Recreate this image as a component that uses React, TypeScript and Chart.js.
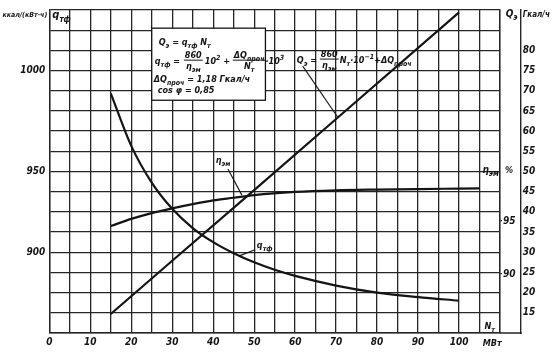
import { useEffect, useRef } from 'react';
import { Chart, registerables } from 'chart.js';

Chart.register(...registerables);

const FONT = '"DejaVu Sans Condensed", "DejaVu Sans", sans-serif';
const INK = '#141414';

// X axis: N_т, МВт
const nMin = 0;
const nMax = 110;
const nStep = 5;
const nLabels = [0, 10, 20, 30, 40, 50, 60, 70, 80, 90, 100];

// Q_э, Гкал/ч (right outer axis)
const qeN = [15, 30, 50, 70, 100];
const qeVals = [14.7, 27.9, 45.4, 63.0, 89.4];
const qeMin = 10;
const qeMax = 90;
const qeTicks = [15, 20, 25, 30, 35, 40, 45, 50, 55, 60, 65, 70, 75, 80];

// q_тф, ккал/(кВт·ч) (left axis)
const qtfN = [15, 20, 25, 30, 35, 40, 45, 50, 55, 60, 70, 80, 90, 100];
const qtfVals = [988.7, 962.7, 944.5, 931.5, 922.0, 915.0, 909.5, 905.0, 901.3, 898.3, 893.5, 890.0, 887.8, 886.0];
const qtfMin = 870;
const qtfMax = 1030;
const qtfStep = 10;
const qtfLabelValues = [910, 950, 1000];
const qtfLabelTexts = ['900', '950', '1000'];

// η_эм, % (right inner axis)
const etaN = [15, 20, 25, 30, 35, 40, 45, 50, 60, 70, 80, 90, 100, 105];
const etaVals = [94.53, 95.2, 95.75, 96.2, 96.6, 96.95, 97.2, 97.45, 97.75, 97.9, 97.97, 98.02, 98.06, 98.08];
const etaMin = 84.43;
const etaMax = 114.92;
const etaTicks = [90, 95];

type Seg = [string, number]; // 0 normal, 1 sub, 2 sup

function segFont(size: number, mode: number) {
  const s = mode === 0 ? size : Math.round(size * 0.75);
  return `italic bold ${s}px ${FONT}`;
}

function measureRich(ctx: CanvasRenderingContext2D, segs: Seg[], size: number) {
  let w = 0;
  for (const [t, m] of segs) {
    ctx.font = segFont(size, m);
    w += ctx.measureText(t).width;
  }
  return w;
}

function rich(ctx: CanvasRenderingContext2D, x: number, y: number, segs: Seg[], size: number) {
  let cx = x;
  ctx.textAlign = 'left';
  ctx.textBaseline = 'alphabetic';
  for (const [t, m] of segs) {
    ctx.font = segFont(size, m);
    const dy = m === 1 ? size * 0.32 : m === 2 ? -size * 0.45 : 0;
    ctx.fillText(t, cx, y + dy);
    cx += ctx.measureText(t).width;
  }
  return cx;
}

function frac(ctx: CanvasRenderingContext2D, x: number, barY: number, num: Seg[], den: Seg[], size: number) {
  const w1 = measureRich(ctx, num, size);
  const w2 = measureRich(ctx, den, size);
  const w = Math.max(w1, w2) + 2;
  rich(ctx, x + (w - w1) / 2, barY - 2, num, size);
  rich(ctx, x + (w - w2) / 2, barY + size, den, size);
  ctx.beginPath();
  ctx.moveTo(x, barY);
  ctx.lineTo(x + w, barY);
  ctx.lineWidth = 1;
  ctx.stroke();
  return x + w;
}

const annotations = {
  id: 'annotations',
  afterDraw(chart: any) {
    const { ctx, chartArea, scales } = chart;
    const xs = scales.x;
    const yQ = scales.yQ;
    const P = (n: number, u: number) => [xs.getPixelForValue(n), yQ.getPixelForValue(qeMin + 5 * u)];
    ctx.save();
    ctx.fillStyle = INK;
    ctx.strokeStyle = INK;

    // bottom line continues to the Q axis
    ctx.lineWidth = 1.4;
    ctx.beginPath();
    ctx.moveTo(chartArea.right, chartArea.bottom);
    ctx.lineTo(yQ.left + 1, chartArea.bottom);
    ctx.stroke();

    // formula box
    const [bx, by] = P(25, 15.1);
    const [bx1, by1] = P(52.75, 11.53);
    ctx.fillStyle = '#ffffff';
    ctx.fillRect(bx, by, bx1 - bx, by1 - by);
    ctx.lineWidth = 1.3;
    ctx.strokeRect(bx, by, bx1 - bx, by1 - by);
    ctx.fillStyle = INK;
    const fs = 9;
    rich(ctx, bx + 7, by + 17, [['Q', 0], ['э', 1], [' = q', 0], ['тф', 1], [' N', 0], ['т', 1]], fs);
    let cx = rich(ctx, bx + 3, by + 36, [['q', 0], ['тф', 1], [' = ', 0]], fs);
    cx = frac(ctx, cx + 1, by + 32, [['860', 0]], [['η', 0], ['эм', 1]], fs);
    cx = rich(ctx, cx + 2, by + 36, [['10', 0], ['2', 2], [' + ', 0]], fs);
    cx = frac(ctx, cx, by + 32, [['ΔQ', 0], ['проч', 1]], [['N', 0], ['т', 1]], fs);
    rich(ctx, cx, by + 36, [['·10', 0], ['3', 2]], fs);
    rich(ctx, bx + 2, by + 54, [['ΔQ', 0], ['проч', 1], [' = 1,18 Гкал/ч', 0]], fs);
    rich(ctx, bx + 6, by + 65, [['cos φ = 0,85', 0]], fs);

    // Q_э formula label and leader
    const [qlx, qly] = P(60.4, 13.37);
    cx = rich(ctx, qlx, qly, [['Q', 0], ['э', 1], [' = ', 0]], fs);
    cx = frac(ctx, cx, qly - 4, [['860', 0]], [['η', 0], ['эм', 1]], fs);
    rich(ctx, cx + 1, qly, [['N', 0], ['т', 1], ['·10', 0], ['−1', 2], ['+ΔQ', 0], ['проч', 1]], fs);
    let [a1, b1] = P(61.85, 13.22);
    let [a2, b2] = P(70.4, 10.69);
    ctx.lineWidth = 1.1;
    ctx.beginPath(); ctx.moveTo(a1, b1); ctx.lineTo(a2, b2); ctx.stroke();

    // η_эм label and leader
    const [elx, ely] = P(40.65, 8.42);
    rich(ctx, elx, ely, [['η', 0], ['эм', 1]], fs);
    [a1, b1] = P(43.6, 8.12);
    [a2, b2] = P(47.0, 6.83);
    ctx.beginPath(); ctx.moveTo(a1, b1); ctx.lineTo(a2, b2); ctx.stroke();

    // q_тф label and leader
    const [qtx, qty] = P(50.66, 4.2);
    rich(ctx, qtx, qty, [['q', 0], ['тф', 1]], fs);
    [a1, b1] = P(50.2, 4.12);
    [a2, b2] = P(46.4, 3.82);
    ctx.beginPath(); ctx.moveTo(a1, b1); ctx.lineTo(a2, b2); ctx.stroke();

    // axis headers
    ctx.textAlign = 'right';
    ctx.font = `italic bold 7px ${FONT}`;
    ctx.fillText('ккал/(кВт·ч)', chartArea.left - 2, 17);
    rich(ctx, chartArea.left + 3, 18, [['q', 0], ['тф', 1]], 11);
    rich(ctx, yQ.left - 15, 17, [['Q', 0], ['э', 1]], 10);
    rich(ctx, yQ.left + 2, 17, [['Гкал/ч', 0]], 8);
    const [hx, hy] = P(105.7, 7.95);
    rich(ctx, hx, hy, [['η', 0], ['эм', 1]], 10);
    rich(ctx, chartArea.right + 5, hy, [['%', 0]], 9);
    const [nx, ny] = P(106.2, 0.2);
    rich(ctx, nx, ny, [['N', 0], ['т', 1]], 9);
    ctx.font = `italic bold 9px ${FONT}`;
    ctx.textAlign = 'left';
    ctx.fillText('МВт', xs.getPixelForValue(105.8), chartArea.bottom + 13);
    ctx.restore();
  },
};

export default function App() {
  const ref = useRef<HTMLCanvasElement | null>(null);

  useEffect(() => {
    document.body.style.margin = '0';
    const canvas = ref.current;
    if (!canvas) return;
    const tickFont = { family: FONT, size: 10, style: 'italic' as const, weight: 'bold' as const };
    const gridColor = '#262626';
    const chart = new Chart(canvas, {
      type: 'line',
      data: {
        datasets: [
          {
            label: 'Q_э',
            data: qeN.map((n, i) => ({ x: n, y: qeVals[i] })),
            yAxisID: 'yQ',
            borderColor: INK,
            borderWidth: 2.2,
            pointRadius: 0,
            tension: 0,
            fill: false,
          },
          {
            label: 'q_тф',
            data: qtfN.map((n, i) => ({ x: n, y: qtfVals[i] })),
            yAxisID: 'y',
            borderColor: INK,
            borderWidth: 2.2,
            pointRadius: 0,
            cubicInterpolationMode: 'monotone',
            fill: false,
          },
          {
            label: 'η_эм',
            data: etaN.map((n, i) => ({ x: n, y: etaVals[i] })),
            yAxisID: 'yEta',
            borderColor: INK,
            borderWidth: 2.2,
            pointRadius: 0,
            cubicInterpolationMode: 'monotone',
            fill: false,
          },
        ],
      },
      options: {
        responsive: false,
        maintainAspectRatio: false,
        animation: false,
        layout: { padding: { top: 9.8, left: 0, right: 0, bottom: 0 } },
        plugins: { legend: { display: false }, tooltip: { enabled: false }, title: { display: false } },
        scales: {
          x: {
            type: 'linear',
            position: 'bottom',
            min: nMin,
            max: nMax,
            afterBuildTicks: (s: any) => {
              const t = [];
              for (let v = nMin; v <= nMax; v += nStep) t.push({ value: v });
              s.ticks = t;
            },
            afterFit: (s: any) => { s.height = 19; },
            ticks: {
              autoSkip: false,
              maxRotation: 0,
              padding: 3,
              color: INK,
              font: tickFont,
              callback: (v: any) => (nLabels.includes(Number(v)) ? String(v) : ''),
            },
            grid: { color: gridColor, lineWidth: 1.3, drawTicks: false },
            border: { display: true, color: gridColor, width: 1.4 },
          },
          y: {
            type: 'linear',
            position: 'left',
            min: qtfMin,
            max: qtfMax,
            afterBuildTicks: (s: any) => {
              const t = [];
              for (let v = qtfMin; v <= qtfMax; v += qtfStep) t.push({ value: v });
              s.ticks = t;
            },
            afterFit: (s: any) => { s.width = 49.3; },
            ticks: {
              autoSkip: false,
              padding: 4,
              color: INK,
              font: tickFont,
              callback: (v: any) => {
                const i = qtfLabelValues.indexOf(Number(v));
                return i >= 0 ? qtfLabelTexts[i] : '';
              },
            },
            grid: { color: gridColor, lineWidth: 1.3, drawTicks: false },
            border: { display: true, color: gridColor, width: 1.4 },
          },
          yEta: {
            type: 'linear',
            position: 'right',
            min: etaMin,
            max: etaMax,
            afterBuildTicks: (s: any) => { s.ticks = etaTicks.map((v) => ({ value: v })); },
            afterFit: (s: any) => { s.width = 20.7; },
            ticks: { autoSkip: false, padding: 1, color: INK, font: tickFont },
            grid: { drawOnChartArea: false, drawTicks: true, tickLength: 2, color: gridColor, lineWidth: 1.2 },
            border: { display: true, color: gridColor, width: 1.4 },
          },
          yQ: {
            type: 'linear',
            position: 'right',
            min: qeMin,
            max: qeMax,
            afterBuildTicks: (s: any) => { s.ticks = qeTicks.map((v) => ({ value: v })); },
            afterFit: (s: any) => { s.width = 32.3; },
            ticks: { autoSkip: false, padding: 2, color: INK, font: tickFont },
            grid: { drawOnChartArea: false, drawTicks: false, color: gridColor },
            border: { display: true, color: gridColor, width: 1.4 },
          },
        },
      },
      plugins: [annotations],
    } as any);
    return () => chart.destroy();
  }, []);

  return (
    <div style={{ width: 553, height: 352, background: '#ffffff' }}>
      <canvas ref={ref} width={553} height={352} style={{ display: 'block', width: 553, height: 352 }} />
    </div>
  );
}
